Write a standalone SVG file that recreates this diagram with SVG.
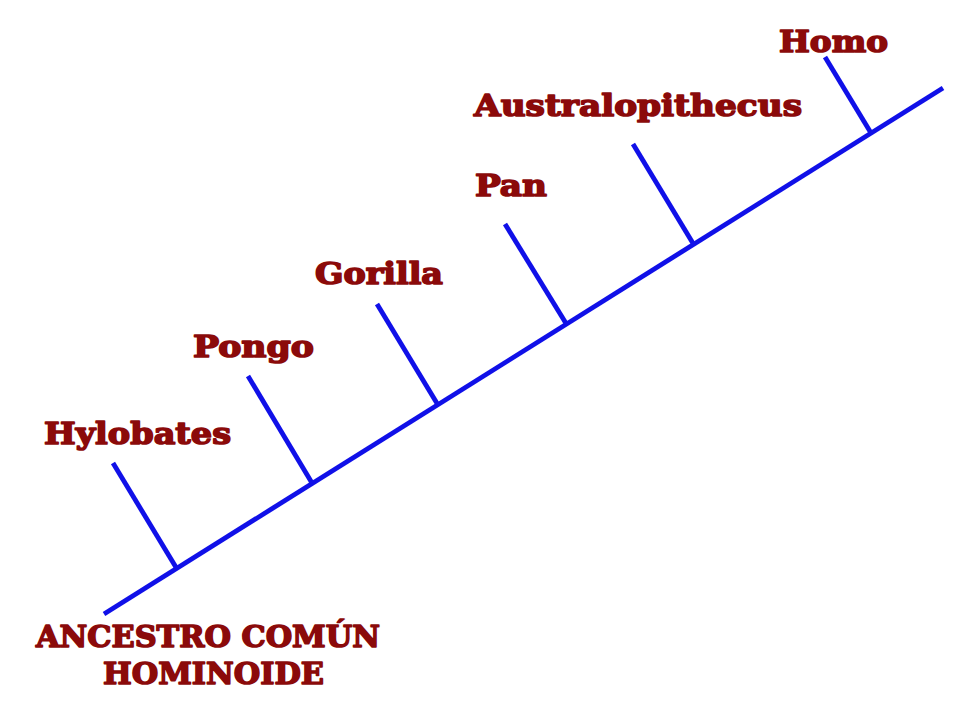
<svg xmlns="http://www.w3.org/2000/svg" width="960" height="720" viewBox="0 0 960 720">
<style>
.t{font-family:"DejaVu Serif","Liberation Serif",serif;font-weight:900;font-size:30px;fill:#8b0a0a;stroke:#8b0a0a;stroke-width:1.6;stroke-linejoin:round}
.l{stroke:#1010e8;stroke-width:4.8;stroke-linecap:butt;fill:none}
</style>
<rect width="960" height="720" fill="#ffffff"/>
<g id="connectors">
<line class="l" x1="104" y1="614" x2="943" y2="88"/>
<line class="l" x1="113" y1="463" x2="177" y2="569"/>
<line class="l" x1="248" y1="376" x2="312" y2="483"/>
<line class="l" x1="377" y1="304" x2="438" y2="405"/>
<line class="l" x1="505" y1="224" x2="567" y2="325"/>
<line class="l" x1="633" y1="144" x2="694" y2="245"/>
<line class="l" x1="825" y1="57" x2="871" y2="133"/>
</g>
<g id="ancestro"><text class="t" x="36" y="647" textLength="344" lengthAdjust="spacingAndGlyphs">ANCESTRO COMÚN</text>
<text class="t" x="103" y="684" textLength="221" lengthAdjust="spacingAndGlyphs">HOMINOIDE</text></g>
<g id="hylobates"><text class="t" x="44" y="444" textLength="187" lengthAdjust="spacingAndGlyphs">Hylobates</text></g>
<g id="pongo"><text class="t" x="193" y="357" textLength="121" lengthAdjust="spacingAndGlyphs">Pongo</text></g>
<g id="gorilla"><text class="t" x="315" y="284" textLength="128" lengthAdjust="spacingAndGlyphs">Gorilla</text></g>
<g id="pan"><text class="t" x="475" y="196" textLength="72" lengthAdjust="spacingAndGlyphs">Pan</text></g>
<g id="australopithecus"><text class="t" x="474" y="116" textLength="328" lengthAdjust="spacingAndGlyphs">Australopithecus</text></g>
<g id="homo"><text class="t" x="779" y="52" textLength="109" lengthAdjust="spacingAndGlyphs">Homo</text></g>
</svg>
